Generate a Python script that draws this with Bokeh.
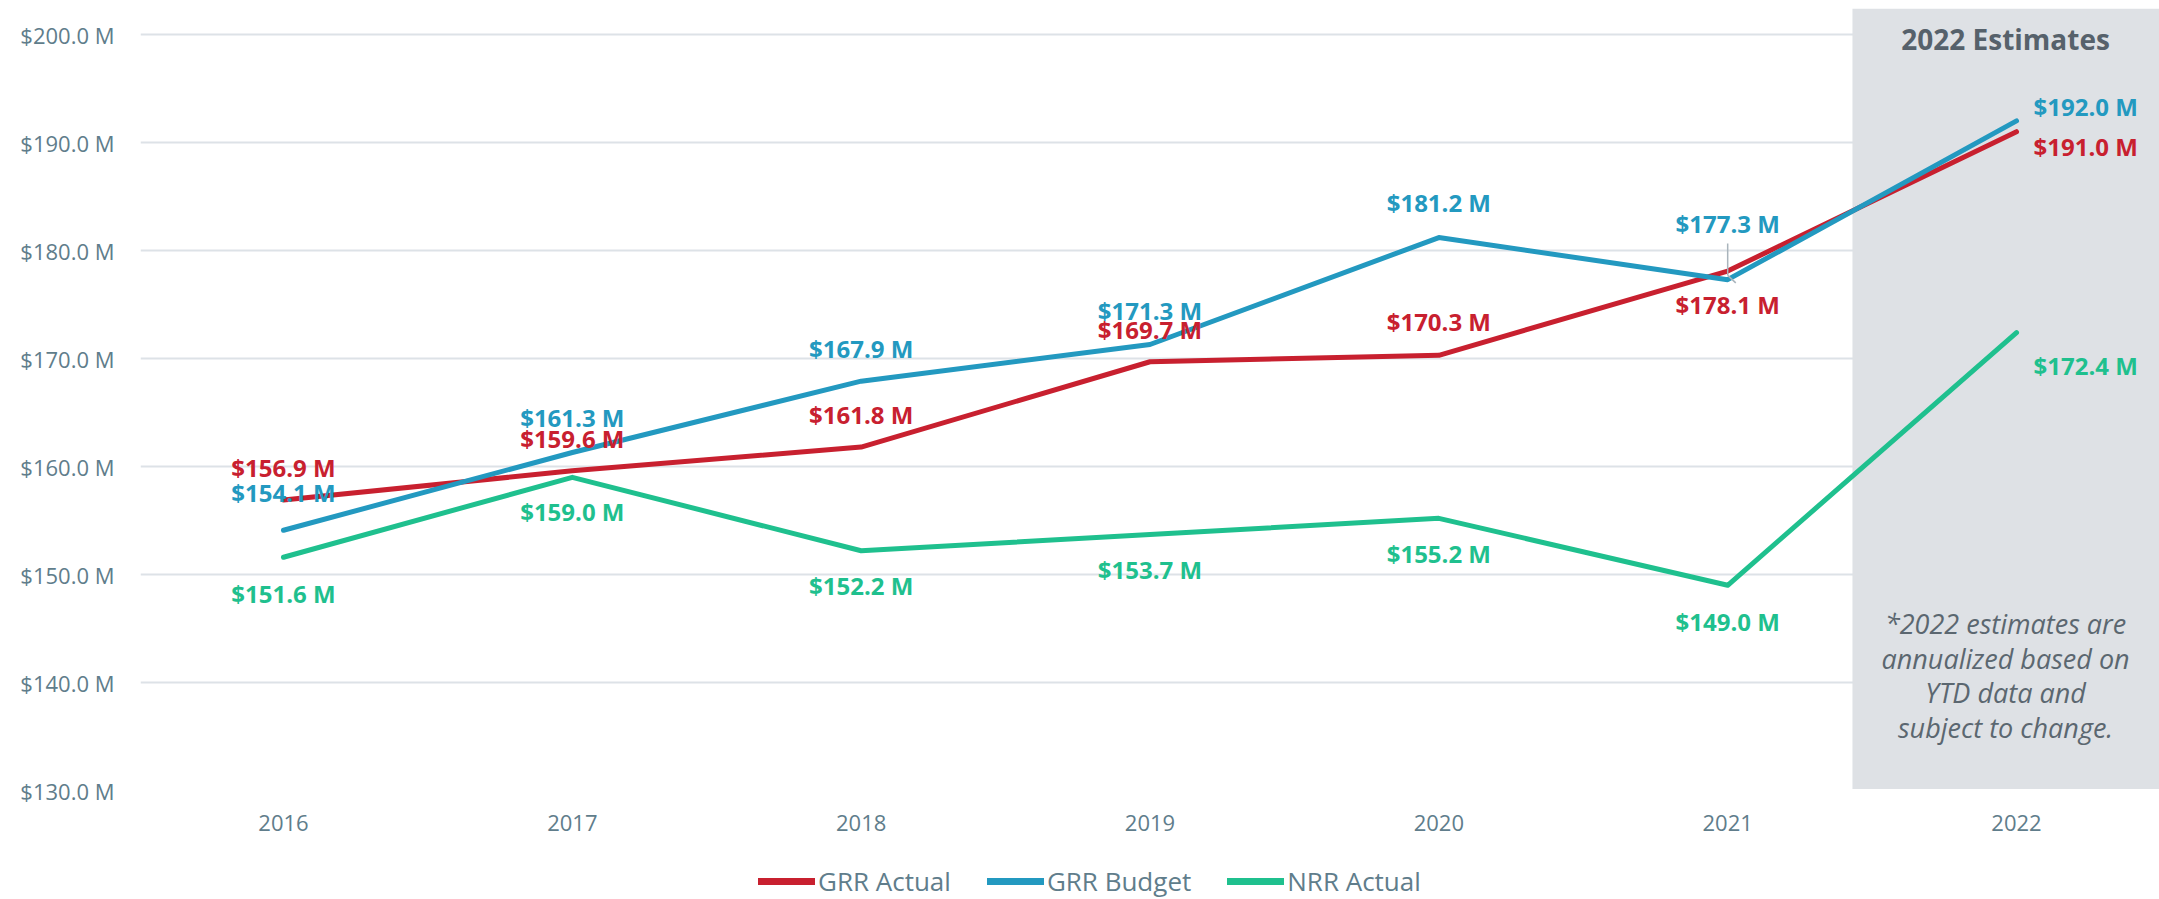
from bokeh.plotting import figure
from bokeh.layouts import column
from bokeh.models import (ColumnDataSource, FixedTicker, PrintfTickFormatter, Legend,
                          LegendItem)
from bokeh.core.properties import value
from bokeh.embed import file_html
from bokeh.resources import INLINE

years = [2016, 2017, 2018, 2019, 2020, 2021, 2022]
grr_actual = [156.9, 159.6, 161.8, 169.7, 170.3, 178.1, 191.0]
grr_budget = [154.1, 161.3, 167.9, 171.3, 181.2, 177.3, 192.0]
nrr_actual = [151.6, 159.0, 152.2, 153.7, 155.2, 149.0, 172.4]
y_ticks = [130, 140, 150, 160, 170, 180, 190, 200]
estimate_year = 2022

RED = "#C8202F"
BLUE = "#2399C0"
GREEN = "#1FC08E"
SLATE = "#607D8B"
FONT = "Open Sans"

p = figure(frame_width=2019, frame_height=782, output_backend="svg", toolbar_location=None,
           x_range=(2015.505, 2022.495), y_range=(130, 202.41),
           min_border_left=140, min_border_right=0, min_border_top=8,
           min_border_bottom=54)
p.outline_line_color = None
p.background_fill_color = "white"
p.border_fill_color = "white"

# grid / axes
p.xgrid.grid_line_color = None
p.ygrid.grid_line_color = "#DDE2E7"
p.ygrid.grid_line_width = 2
p.yaxis.ticker = FixedTicker(ticks=y_ticks)
p.yaxis.formatter = PrintfTickFormatter(format="$%.1f M")
p.xaxis.ticker = FixedTicker(ticks=years)
p.xaxis.formatter = PrintfTickFormatter(format="%d")
for ax in (p.xaxis, p.yaxis):
    ax.axis_line_color = None
    ax.major_tick_line_color = None
    ax.minor_tick_line_color = None
    ax.major_tick_out = 0
    ax.major_tick_in = 0
    ax.minor_tick_out = 0
    ax.major_label_text_font = FONT
    ax.major_label_text_font_size = "22px"
    ax.major_label_text_color = SLATE
p.yaxis.major_label_standoff = 26
p.xaxis.major_label_standoff = 24

# shaded estimate region
p.quad(left=[estimate_year - 0.568], right=[2022.6], bottom=[130.15], top=[202.41],
       fill_color="#DEE1E5", line_color=None)

# lines
r_green = p.line(years, nrr_actual, line_color=GREEN, line_width=5,
                 line_cap="round", line_join="round")
r_red = p.line(years, grr_actual, line_color=RED, line_width=5,
               line_cap="round", line_join="round")
r_blue = p.line(years, grr_budget, line_color=BLUE, line_width=5,
                line_cap="round", line_join="round")

# data labels
def fmt(v):
    return "$%.1f M" % v

label_specs = [
    (grr_actual, RED, [-32, -32, -33, -32, -34, 33, 15]),
    (grr_budget, BLUE, [-38, -35, -33, -34, -35, -56, -14]),
    (nrr_actual, GREEN, [36, 34, 35, 35, 35, 36, 33]),
]
for vals, col, yoffs in label_specs:
    xoffs = [17 if y == estimate_year else 0 for y in years]
    aligns = ["left" if y == estimate_year else "center" for y in years]
    src = ColumnDataSource(dict(x=years, y=vals, t=[fmt(v) for v in vals],
                                xo=xoffs, yo=yoffs, al=aligns))
    p.text(x="x", y="y", text="t", x_offset="xo", y_offset="yo", text_align="al",
           source=src, text_baseline="middle", text_color=col,
           text_font=value(FONT), text_font_style="bold", text_font_size="24px")

# leader line for 2021 budget label
i21 = years.index(2021)
v21 = grr_budget[i21]
p.segment(x0=[2021], y0=[v21 + 3.35], x1=[2021], y1=[v21 + 0.4],
          line_color="#A9B4BC", line_width=1.5)
p.segment(x0=[2021], y0=[v21 + 0.4], x1=[2021.028], y1=[v21 - 0.3],
          line_color="#A9B4BC", line_width=1.5)

# annotations in the estimate region
p.text(x=[estimate_year - 0.038], y=[199.54], text=["2022 Estimates"],
       text_align="center", text_baseline="middle", text_color="#56616B",
       text_font=value(FONT), text_font_style="bold", text_font_size="28px")
p.text(x=[estimate_year - 0.038], y=[140.65],
       text=["*2022 estimates are\nannualized based on\nYTD data and\nsubject to change."],
       text_align="center", text_baseline="middle", text_color="#5B6770",
       text_font=value(FONT), text_font_style="italic", text_font_size="27px",
       text_line_height=0.93)

# legend in its own strip below the chart
lf = figure(width=2159, height=55, output_backend="svg", toolbar_location=None,
            x_axis_location=None, y_axis_location=None,
            min_border_left=0, min_border_right=0, min_border_top=0, min_border_bottom=0,
            x_range=(0, 1), y_range=(0, 1))
lf.outline_line_color = None
lf.background_fill_color = "white"
lf.border_fill_color = "white"
lf.xgrid.visible = False
lf.ygrid.visible = False
# swatch renderers sit outside the visible range; only their legend entries show
lg_red = lf.line([-5, -4], [-5, -4], line_color=RED, line_width=7, line_cap="round")
lg_blue = lf.line([-5, -4], [-5, -4], line_color=BLUE, line_width=7, line_cap="round")
lg_green = lf.line([-5, -4], [-5, -4], line_color=GREEN, line_width=7, line_cap="round")

legend = Legend(items=[LegendItem(label="GRR Actual", renderers=[lg_red]),
                       LegendItem(label="GRR Budget", renderers=[lg_blue]),
                       LegendItem(label="NRR Actual", renderers=[lg_green])],
                orientation="horizontal", location=(618, 0))
legend.label_text_font = FONT
legend.label_text_font_size = "26px"
legend.label_text_color = SLATE
legend.glyph_width = 57
legend.label_standoff = 3
legend.spacing = 36
legend.padding = 0
legend.margin = 0
legend.border_line_color = None
legend.background_fill_alpha = 0
lf.add_layout(legend)

layout = column(p, lf, spacing=0)
open("out.html", "w").write(file_html(layout, INLINE))
